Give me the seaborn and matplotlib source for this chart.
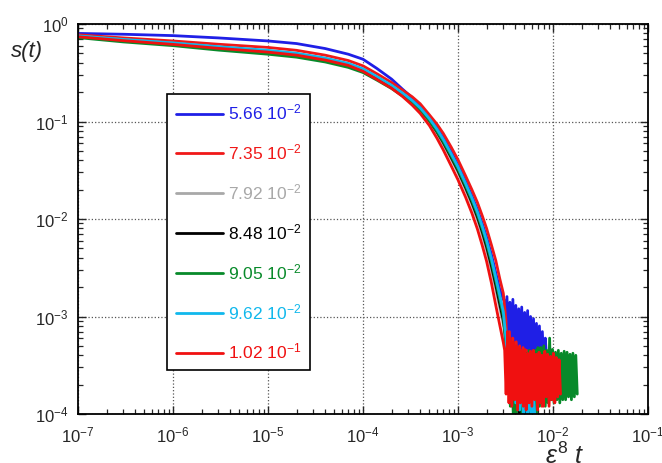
import numpy as np
import pandas as pd
import seaborn as sns
import matplotlib.pyplot as plt

t_grid = [1e-7, 3e-7, 1e-6, 3e-6, 1e-5, 2e-5, 4e-5, 7e-5, 1e-4, 1.4e-4,
          2e-4, 2.6e-4, 3.3e-4, 4e-4, 5e-4, 6e-4, 7e-4, 8.5e-4, 1e-3, 1.2e-3,
          1.4e-3, 1.6e-3, 1.8e-3, 2e-3, 2.25e-3, 2.5e-3, 2.75e-3, 3e-3]

labels = ["5.66 10$^{-2}$", "7.35 10$^{-2}$", "7.92 10$^{-2}$", "8.48 10$^{-2}$",
          "9.05 10$^{-2}$", "9.62 10$^{-2}$", "1.02 10$^{-1}$"]
colors = ["#1f1fe6", "#f01818", "#a8a8a8", "#000000", "#088a2a", "#10b8ec", "#f01010"]

s_blue = [0.80, 0.785, 0.76, 0.72, 0.67, 0.63, 0.56, 0.49, 0.435, 0.35,
          0.272, 0.215, 0.175, 0.145, 0.11, 0.086, 0.068, 0.0485, 0.0358, 0.0244,
          0.0173, 0.0125, 0.009, 0.0065, 0.0043, 0.0028, 0.0019, 0.0015]
s_red1 = [0.775, 0.72, 0.67, 0.62, 0.575, 0.537, 0.479, 0.422, 0.372, 0.309,
          0.251, 0.21, 0.179, 0.152, 0.117, 0.094, 0.0755, 0.0544, 0.0405, 0.0278,
          0.020, 0.0148, 0.0108, 0.0080, 0.0054, 0.00375, 0.00245, 0.00173]
s_gray = [0.75, 0.69, 0.635, 0.58, 0.53, 0.495, 0.441, 0.388, 0.34, 0.281,
          0.227, 0.187, 0.155, 0.13, 0.0996, 0.0762, 0.0587, 0.041, 0.030, 0.0201,
          0.0141, 0.0099, 0.0069, 0.0048, 0.0030, 0.0019, 0.00122, 0.00082]
s_black = [0.745, 0.685, 0.63, 0.575, 0.525, 0.49, 0.437, 0.385, 0.339, 0.282,
           0.229, 0.19, 0.158, 0.133, 0.102, 0.0785, 0.061, 0.0427, 0.0313, 0.0211,
           0.0148, 0.0105, 0.0074, 0.0052, 0.0033, 0.0021, 0.00135, 0.00091]
s_green = [0.725, 0.655, 0.60, 0.54, 0.49, 0.457, 0.408, 0.359, 0.318, 0.266,
           0.218, 0.183, 0.155, 0.132, 0.102, 0.0794, 0.0624, 0.0441, 0.0324, 0.022,
           0.0155, 0.0111, 0.0079, 0.0056, 0.0036, 0.0023, 0.0015, 0.00101]
s_cyan = [0.755, 0.695, 0.64, 0.585, 0.537, 0.501, 0.447, 0.394, 0.347, 0.289,
          0.235, 0.196, 0.164, 0.138, 0.107, 0.0834, 0.0655, 0.0463, 0.0342, 0.0232,
          0.0164, 0.0118, 0.0084, 0.0060, 0.0039, 0.0025, 0.00165, 0.00112]
s_red2 = [0.74, 0.675, 0.618, 0.563, 0.515, 0.479, 0.427, 0.376, 0.327, 0.27,
          0.219, 0.181, 0.147, 0.121, 0.0909, 0.0675, 0.0511, 0.0349, 0.0252, 0.0168,
          0.0115, 0.0079, 0.00536, 0.00368, 0.0022, 0.0013, 0.00082, 0.00054]

# noisy tails: first / last eps^8 t of the tail and the samples in between
tail_start = [3.05e-3, 3.2e-3, 3.2e-3, 3.2e-3, 3.2e-3, 3.2e-3, 3.1e-3]
tail_end = [8.6e-3, 9.0e-3, 4.2e-3, 5.8e-3, 1.8e-2, 6.5e-3, 1.2e-2]

ts_blue = [1.5e-3, 5e-4, 1.6e-3, 4.5e-4, 1.4e-3, 4e-4, 1.5e-3, 4e-4, 1.3e-3, 3.8e-4,
           1.2e-3, 3.5e-4, 1.25e-3, 3.5e-4, 1.1e-3, 3.4e-4, 1.15e-3, 3.2e-4, 1.0e-3, 3.2e-4,
           9.5e-4, 3e-4, 8.5e-4, 3e-4, 8e-4, 3e-4, 7e-4, 3e-4, 6e-4, 3.5e-4]
ts_red1 = [9e-4, 2.5e-4, 7e-4, 2e-4, 6e-4, 1.6e-4, 5.5e-4, 1.4e-4, 5e-4, 1.3e-4,
           4.8e-4, 1.3e-4, 4.5e-4, 1.2e-4, 4.4e-4, 1.3e-4, 4.3e-4, 1.2e-4, 4.2e-4, 1.3e-4,
           4.2e-4, 1.2e-4, 4e-4, 1.3e-4, 4e-4, 1.4e-4]
ts_gray = [5e-4, 2e-4, 3e-4, 1.3e-4, 2.2e-4, 9e-5, 1.5e-4]
ts_black = [6e-4, 2.2e-4, 3.5e-4, 1.4e-4, 2.5e-4, 1.1e-4, 2e-4, 9e-5, 1.8e-4, 8e-5,
            1.6e-4, 8e-5, 1.4e-4, 8e-5]
ts_green = [5e-4, 1.8e-4, 3.5e-4, 1.2e-4, 3e-4, 1.0e-4, 3.2e-4, 9e-5, 3.5e-4, 1.1e-4,
            3.8e-4, 1.0e-4, 4e-4, 1.2e-4, 4.2e-4, 9e-5, 4.5e-4, 1.1e-4, 4.2e-4, 9e-5,
            4.5e-4, 1.0e-4, 4.8e-4, 1.2e-4, 4.8e-4, 1.3e-4, 5e-4, 1.2e-4, 4.5e-4, 1.3e-4,
            6e-4, 1.4e-4, 4.6e-4, 1.3e-4, 4.3e-4, 1.4e-4, 4.5e-4, 1.3e-4, 4.2e-4, 1.4e-4,
            4.4e-4, 1.4e-4, 4.3e-4, 1.5e-4, 4.1e-4, 1.4e-4, 4.2e-4, 1.5e-4, 4.0e-4, 1.6e-4]
ts_cyan = [6e-4, 2.5e-4, 4.5e-4, 1.8e-4, 3.5e-4, 1.3e-4, 3e-4, 1.1e-4, 2.6e-4, 9e-5,
           2.2e-4, 9e-5, 2e-4, 8e-5, 1.8e-4, 8e-5]
ts_red2 = [4.5e-4, 1.6e-4, 7e-4, 1.3e-4, 6e-4, 1.2e-4, 5.5e-4, 1.4e-4, 5e-4, 1.1e-4,
           4.8e-4, 1.3e-4, 4.5e-4, 1.2e-4, 4.6e-4, 1.1e-4, 4.2e-4, 1.3e-4, 4.4e-4, 1.2e-4,
           4.5e-4, 1.4e-4, 4.1e-4, 1.1e-4, 4.3e-4, 1.3e-4, 4.0e-4, 1.2e-4, 4.4e-4, 1.5e-4,
           4.1e-4, 1.2e-4, 3.9e-4, 1.4e-4, 4.2e-4, 1.3e-4, 3.8e-4, 1.5e-4, 3.6e-4, 1.6e-4]

smooth = [s_blue, s_red1, s_gray, s_black, s_green, s_cyan, s_red2]
tails = [ts_blue, ts_red1, ts_gray, ts_black, ts_green, ts_cyan, ts_red2]

sns.set_style("ticks")
plt.rcParams["font.family"] = ["Liberation Sans", "DejaVu Sans"]
plt.rcParams["mathtext.fontset"] = "custom"
plt.rcParams["mathtext.rm"] = "Liberation Sans"
plt.rcParams["mathtext.it"] = "Liberation Sans:italic"

fig = plt.figure(figsize=(6.62, 4.63), dpi=100)
ax = fig.add_axes([78 / 662, 49 / 463, 570 / 662, 390 / 463])

for i in range(len(labels)):
    # tail samples are evenly spaced in log time
    tx = np.geomspace(tail_start[i], tail_end[i], len(tails[i]))
    df = pd.DataFrame({"t": t_grid + list(tx), "s": smooth[i] + tails[i]})
    sns.lineplot(data=df, x="t", y="s", ax=ax, color=colors[i], lw=2.0,
                 estimator=None, sort=False, label=labels[i])

ax.set_xscale("log")
ax.set_yscale("log")
ax.set_xlim(1e-7, 1e-1)
ax.set_ylim(1e-4, 1)
ax.set_xlabel("")
ax.set_ylabel("s(t)", rotation=0, fontsize=16, style="italic", ha="center", va="center")
ax.yaxis.set_label_coords(-0.09, 0.93)

ax.grid(True, which="major", ls=":", color="#555555", lw=0.9)
ax.tick_params(which="both", direction="in", top=True, right=True, labelsize=12)
ax.tick_params(which="major", length=6, width=1)
ax.tick_params(which="minor", length=3.5, width=0.9)
ax.tick_params(axis="x", pad=8)
ax.tick_params(axis="y", pad=7)
for sp in ax.spines.values():
    sp.set_linewidth(1.3)
    sp.set_color("black")

leg = ax.legend(loc="upper left", bbox_to_anchor=((167 - 78) / 570, (414 - 94) / 390),
                fontsize=12.5, frameon=True, fancybox=False, framealpha=1,
                edgecolor="black", labelspacing=1.15, handlelength=2.7,
                handletextpad=0.3, borderpad=0.5, borderaxespad=0)
leg.get_frame().set_linewidth(1.2)
for txt, c in zip(leg.get_texts(), colors):
    txt.set_color(c)

fig.text(565 / 662, 1 - 456 / 463, r"$\varepsilon^{8}\ t$", fontsize=18,
         ha="center", va="center")

fig.savefig("out.png", dpi=100)
